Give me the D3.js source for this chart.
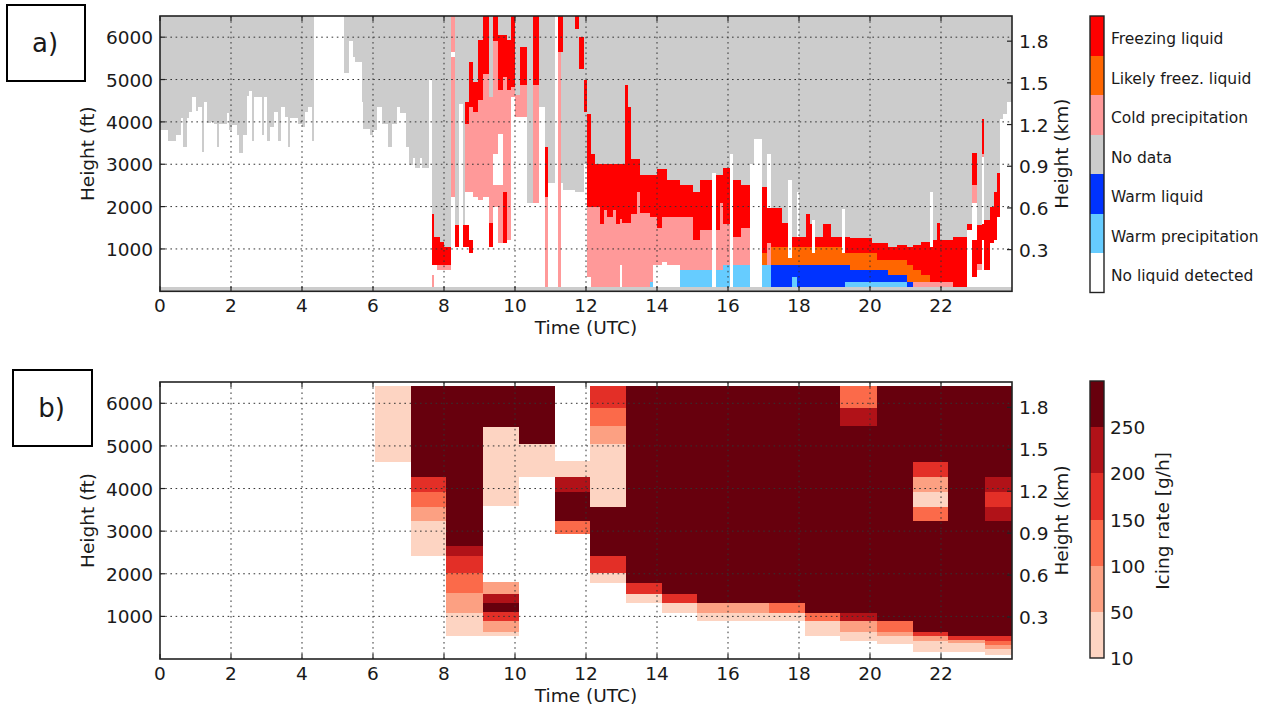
<!DOCTYPE html>
<html><head><meta charset="utf-8">
<script src="https://cdn.jsdelivr.net/npm/d3@7"></script>
<style>
body{margin:0;background:#fff;}
text{font-family:"DejaVu Sans",sans-serif;fill:#1a1a1a;}
</style>
</head><body>
<svg id="c" width="1268" height="711"></svg>
<script>
// ---------------- data ----------------
const hourTicks = [0,2,4,6,8,10,12,14,16,18,20,22];
const ftTicks = [1000,2000,3000,4000,5000,6000];
const kmTicks = [0.3,0.6,0.9,1.2,1.5,1.8];
const heightMaxFt = 6500;
const surfaceStripFt = 90;

// classification classes, legend order top -> bottom
const classCodes = ["R","O","P","G","B","L","W"];
const classNames = ["Freezing liquid","Likely freez. liquid","Cold precipitation","No data","Warm liquid","Warm precipitation","No liquid detected"];
const classColors = ["#ff0000","#ff6600","#ff9999","#cccccc","#0033ff","#66ccff","#ffffff"];

// each profile: [start hour, [[class, top of layer in ft], ...] from the surface strip up]; above last layer: no data
const profiles = [
[0.00,[["W",3820]]],[0.23,[["W",3550]]],[0.45,[["W",3690]]],[0.59,[["W",4080]]],[0.66,[["W",3410]]],
[0.75,[["W",4100]]],[0.83,[["W",4230]]],[0.91,[["W",4590]]],[1.00,[["W",4250]]],[1.08,[["W",4350]]],
[1.17,[["W",3300]]],[1.24,[["W",4470]]],[1.33,[["W",3970]]],[1.44,[["W",4000]]],[1.53,[["W",3960]]],
[1.60,[["W",3410]]],[1.66,[["W",3960]]],[1.88,[["W",4210]]],[1.94,[["W",3800]]],[2.02,[["W",3920]]],
[2.18,[["W",3690]]],[2.23,[["W",3270]]],[2.33,[["W",3690]]],[2.44,[["W",4600]]],[2.52,[["W",4720]]],
[2.58,[["W",3550]]],[2.66,[["W",4590]]],[2.86,[["W",3690]]],[2.94,[["W",4590]]],[3.00,[["W",3550]]],
[3.10,[["W",3880]]],[3.21,[["W",4240]]],[3.31,[["W",3550]]],[3.40,[["W",4350]]],[3.51,[["W",4120]]],
[3.61,[["W",3410]]],[3.67,[["W",4100]]],[3.90,[["W",3960]]],[3.99,[["W",3880]]],[4.08,[["W",4240]]],
[4.18,[["W",4350]]],[4.29,[["W",3550]]],[4.34,[["W",6500]]],[5.18,[["W",5150]]],[5.33,[["W",5910]]],
[5.43,[["W",5530]]],[5.49,[["W",5420]]],[5.68,[["W",4470]]],[5.73,[["W",3840]]],[5.92,[["W",3690]]],
[5.99,[["W",3800]]],[6.10,[["W",4350]]],[6.26,[["W",3960]]],[6.43,[["W",3410]]],[6.53,[["W",3960]]],
[6.69,[["W",4350]]],[6.76,[["W",4210]]],[6.93,[["W",3410]]],[7.02,[["W",2980]]],[7.12,[["W",3140]]],
[7.18,[["W",2900]]],[7.31,[["W",3140]]],[7.38,[["W",2900]]],[7.57,[["W",5000]]],
[7.66,[["P",384],["W",620],["R",1823]]],
[7.73,[["W",620],["R",1288]]],
[7.79,[["W",502],["P",620],["R",1288]]],
[7.89,[["W",502],["P",620],["R",1170]]],
[8.00,[["W",502],["P",620],["R",1037]]],
[8.19,[["W",2231],["P",5530],["W",5650],["P",6500]]],
[8.31,[["W",1037],["R",1563]]],
[8.43,[["W",4430]]],
[8.53,[["W",1037],["R",1563]]],
[8.59,[["W",1037],["R",1563],["W",2349],["P",3960],["R",4472]]],
[8.71,[["W",900],["R",1210],["W",2349],["P",4354],["R",5415]]],
[8.83,[["W",2231],["P",4236],["R",4943]]],
[8.97,[["W",2150],["P",4511],["R",5926]]],
[9.11,[["W",2231],["P",5140],["R",6500]]],
[9.28,[["W",1037],["R",1603],["P",4589]]],
[9.39,[["W",2000],["P",2500],["W",3250],["P",5900],["R",6500]]],
[9.53,[["W",1131],["P",2507],["W",3720],["P",4747],["R",6044]]],
[9.67,[["W",1131],["R",2349],["P",5061],["R",6044]]],
[9.77,[["W",1210],["P",4747],["R",5926]]],
[9.88,[["W",4589],["P",4825],["R",6500]]],
[10.00,[["W",4118],["P",4629]]],
[10.14,[["W",4118],["P",4865],["R",5768]]],
[10.35,[["W",2074]]],
[10.52,[["W",2074],["P",4865],["R",6500]]],
[10.69,[["W",4354]]],
[10.85,[["P",2231],["R",3410]]],
[10.94,[["W",2546]]],
[11.13,[["W",6500]]],
[11.22,[["P",5650],["R",6500]]],
[11.29,[["W",2546],["G",5650],["R",6500]]],
[11.36,[["W",2400]]],
[11.69,[["W",2349],["G",6201],["R",6500]]],
[11.81,[["W",2349],["G",5258],["R",6004]]],
[11.94,[["W",3000],["G",4236],["R",4982]]],
[12.02,[["W",345],["P",1996],["R",4197]]],
[12.13,[["P",1996],["R",3253]]],
[12.25,[["P",1996],["R",3017]]],
[12.40,[["P",1600],["R",3017]]],
[12.50,[["P",1917],["R",3017]]],
[12.60,[["P",1760],["R",3017]]],
[12.75,[["P",1917],["R",3017]]],
[12.85,[["P",1600],["R",3017]]],
[12.95,[["W",620],["P",1700],["R",3017]]],
[13.02,[["P",1603],["R",3017]]],
[13.10,[["P",1603],["R",4865]]],
[13.19,[["P",1603],["R",4354]]],
[13.26,[["P",1830],["R",3135]]],
[13.43,[["P",2350],["R",3135]]],
[13.52,[["P",1838],["R",2742]]],
[13.80,[["L",227],["P",1760],["R",2742]]],
[13.89,[["W",620],["P",1760],["R",2742]]],
[13.99,[["W",620],["P",1500],["R",2876]]],
[14.13,[["W",700],["P",1760],["R",2876]]],
[14.27,[["W",620],["P",1760],["R",2625]]],
[14.65,[["L",502],["P",1760],["R",2507]]],
[15.02,[["L",502],["P",1210],["R",2350]]],
[15.21,[["L",502],["P",1445],["R",2625]]],
[15.54,[["W",2782]]],
[15.66,[["L",502],["P",1445],["R",2742]]],
[15.77,[["L",502],["P",2074],["R",2742]]],
[15.87,[["L",620],["P",1600],["R",2900]]],
[16.06,[["W",3253]]],
[16.15,[["L",620],["P",1288],["R",2625]]],
[16.38,[["L",620],["P",1500],["R",2507]]],
[16.62,[["W",3017]]],
[16.73,[["W",3600]]],
[16.95,[["L",620],["O",900],["R",2467]]],
[17.09,[["L",620],["P",1131],["R",1956],["W",3253]]],
[17.20,[["B",620],["O",1037],["R",1956]]],
[17.51,[["B",620],["O",1037],["R",1603]]],
[17.70,[["B",620],["O",775],["W",2625]]],
[17.79,[["L",345],["B",620],["O",1037],["R",1288]]],
[17.93,[["B",620],["O",1037],["R",1288],["W",2349]]],
[18.01,[["B",620],["O",1037],["R",1288]]],
[18.20,[["B",620],["O",1037],["R",1823]]],
[18.31,[["B",620],["O",1037],["R",1600]]],
[18.38,[["B",620],["O",900],["W",1680]]],
[18.45,[["B",620],["O",1037],["R",1288]]],
[18.69,[["B",620],["O",1037],["R",1600]]],
[18.89,[["B",620],["O",1037],["R",1288]]],
[19.20,[["B",620],["O",900],["W",1950]]],
[19.30,[["L",227],["B",620],["O",900],["R",1288]]],
[19.44,[["L",227],["B",502],["O",900],["R",1250]]],
[20.05,[["L",227],["B",502],["O",900],["R",1131]]],
[20.19,[["L",227],["B",502],["O",737],["R",1131]]],
[20.52,[["L",227],["B",384],["O",737],["R",1037]]],
[20.75,[["L",227],["B",384],["O",737],["R",1100]]],
[21.03,[["B",227],["O",620],["R",1037]]],
[21.22,[["P",227],["O",502],["R",1100]]],
[21.45,[["P",227],["O",384],["R",1170]]],
[21.69,[["P",227],["R",1037],["W",2349]]],
[21.78,[["P",227],["R",1210]]],
[21.90,[["P",227],["R",1603]]],
[21.97,[["P",227],["R",1210]]],
[22.35,[["R",1288]]],
[22.73,[["W",1445],["R",1600]]],
[22.86,[["W",345],["R",1210],["W",2090],["P",2507],["R",3269]]],
[23.00,[["W",502],["P",650],["R",1563]]],
[23.15,[["W",1210],["R",1600],["W",3170],["P",3253],["R",4078]]],
[23.21,[["W",502],["R",1680]]],
[23.38,[["W",1131],["R",1996]]],
[23.48,[["W",1210],["R",2350]]],
[23.59,[["W",1760],["R",2782]]],
[23.66,[["W",4078]]],
[23.75,[["W",4197]]],
[23.85,[["W",4472]]]
];

// icing rate (panel b): time bins and cells [rate g/h, bottom ft, top ft]
const icingBinStart = [6.06,7.07,8.07,9.09,10.12,11.13,12.11,13.13,14.13,15.14,16.15,17.16,18.17,19.16,20.19,21.20,22.19,23.24];
const icingCells = [
 [[30,4622,6409]],
 [[30,2417,3244],[75,3244,3559],[125,3559,3929],[175,3929,4267],[300,4267,6409]],
 [[30,551,1078],[75,1078,1551],[125,1551,2008],[175,2008,2418],[225,2418,2653],[300,2653,6409]],
 [[30,551,645],[75,645,881],[175,881,1094],[300,1094,1315],[225,1315,1535],[75,1535,1803],[30,3582,5449],[300,5449,6409]],
 [[30,4267,5055],[300,5055,6409]],
 [[125,2929,3244],[300,3244,3929],[225,3929,4267],[30,4267,4638]],
 [[30,1787,2008],[175,2008,2417],[300,2417,3575],[30,3575,5055],[75,5055,5472],[125,5472,5882],[175,5882,6409]],
 [[30,1315,1535],[175,1535,1787],[300,1787,6409]],
 [[30,1078,1315],[175,1315,1535],[300,1535,6409]],
 [[30,881,1078],[75,1078,1315],[300,1315,6409]],
 [[30,881,1078],[75,1078,1315],[300,1315,6409]],
 [[30,881,1078],[125,1078,1315],[300,1315,6409]],
 [[30,543,881],[125,881,1078],[300,1078,6409]],
 [[30,425,645],[75,645,881],[225,881,1078],[300,1078,5472],[225,5472,5882],[125,5882,6409]],
 [[30,346,543],[75,543,645],[125,645,881],[300,881,6409]],
 [[30,165,425],[75,425,543],[175,543,645],[300,645,3244],[125,3244,3575],[30,3575,3929],[75,3929,4267],[175,4267,4622],[300,4622,6409]],
 [[30,165,370],[75,370,449],[175,449,543],[300,543,6409]],
 [[30,86,228],[75,228,330],[125,330,425],[175,425,543],[300,543,3244],[225,3244,3575],[175,3575,3929],[225,3929,4267],[300,4267,6409]]
];
const icingTicks = [10,50,100,150,200,250];
const icingColors = ["#fdd4c2","#fca082","#fb6a4a","#e32f27","#b11218","#67000d"];

// ---------------- drawing ----------------
const svg = d3.select("#c");
const FS = 18.5;

function makeScales(top, bottom){
  const x = d3.scaleLinear().domain([0,24]).range([160,1012]);
  const y = d3.scaleLinear().domain([0,heightMaxFt]).range([bottom,top]);
  const km = d3.scaleLinear().domain([0,heightMaxFt*0.0003048]).range([bottom,top]);
  return {x,y,km,top,bottom};
}

function axesOverlay(g, s){
  const {x,y,km,top,bottom} = s;
  const gg = g.append("g");
  // dotted grid
  gg.selectAll(".gx").data(hourTicks.filter(d=>d>0)).join("line")
    .attr("x1",d=>x(d)).attr("x2",d=>x(d)).attr("y1",top).attr("y2",bottom)
    .attr("stroke","#333").attr("stroke-width",1).attr("stroke-dasharray","1.6,3.6");
  gg.selectAll(".gy").data(ftTicks).join("line")
    .attr("x1",x(0)).attr("x2",x(24)).attr("y1",d=>y(d)).attr("y2",d=>y(d))
    .attr("stroke","#333").attr("stroke-width",1).attr("stroke-dasharray","1.6,3.6");
  // ticks (inward)
  gg.selectAll(".tb").data(hourTicks).join("line")
    .attr("x1",d=>x(d)).attr("x2",d=>x(d)).attr("y1",bottom).attr("y2",bottom-5)
    .attr("stroke","#222").attr("stroke-width",1.2);
  gg.selectAll(".tt").data(hourTicks).join("line")
    .attr("x1",d=>x(d)).attr("x2",d=>x(d)).attr("y1",top).attr("y2",top+5)
    .attr("stroke","#222").attr("stroke-width",1.2);
  gg.selectAll(".tl").data(ftTicks).join("line")
    .attr("x1",x(0)).attr("x2",x(0)+5).attr("y1",d=>y(d)).attr("y2",d=>y(d))
    .attr("stroke","#222").attr("stroke-width",1.2);
  gg.selectAll(".tr").data(kmTicks).join("line")
    .attr("x1",x(24)-5).attr("x2",x(24)).attr("y1",d=>km(d)).attr("y2",d=>km(d))
    .attr("stroke","#222").attr("stroke-width",1.2);
  // frame
  gg.append("rect").attr("x",x(0)).attr("y",top).attr("width",x(24)-x(0)).attr("height",bottom-top)
    .attr("fill","none").attr("stroke","#222").attr("stroke-width",1.6);
  // tick labels
  gg.selectAll(".lx").data(hourTicks).join("text")
    .attr("x",d=>x(d)).attr("y",bottom+21).attr("text-anchor","middle")
    .style("font-size",FS+"px").text(d=>d);
  gg.selectAll(".ly").data(ftTicks).join("text")
    .attr("x",x(0)-7).attr("y",d=>y(d)+7).attr("text-anchor","end")
    .style("font-size",FS+"px").text(d=>d);
  gg.selectAll(".lk").data(kmTicks).join("text")
    .attr("x",x(24)+7).attr("y",d=>km(d)+7).attr("text-anchor","start")
    .style("font-size",FS+"px").text(d=>d.toFixed(1));
  // axis titles
  const cy = (top+bottom)/2;
  gg.append("text").attr("transform",`translate(94,${cy}) rotate(-90)`).attr("text-anchor","middle")
    .style("font-size",FS+"px").text("Height (ft)");
  gg.append("text").attr("transform",`translate(1068,${cy}) rotate(-90)`).attr("text-anchor","middle")
    .style("font-size",FS+"px").text("Height (km)");
  gg.append("text").attr("x",(x(0)+x(24))/2).attr("y",bottom+43).attr("text-anchor","middle")
    .style("font-size",FS+"px").text("Time (UTC)");
}

function labelBox(x0,y0,w,h,label){
  svg.append("rect").attr("x",x0).attr("y",y0).attr("width",w).attr("height",h)
    .attr("fill","#fff").attr("stroke","#000").attr("stroke-width",2);
  svg.append("text").attr("x",x0+w/2-1).attr("y",y0+h/2+9).attr("text-anchor","middle")
    .style("font-size","26px").text(label);
}

// ---- panel a ----
const sA = makeScales(16, 291.3);
const colorOf = {}; classCodes.forEach((c,i)=>colorOf[c]=classColors[i]);
const gA = svg.append("g");
gA.append("rect").attr("x",sA.x(0)).attr("y",sA.y(heightMaxFt)).attr("width",sA.x(24)-sA.x(0))
  .attr("height",sA.y(0)-sA.y(heightMaxFt)).attr("fill",colorOf.G);
const rectsA = [];
profiles.forEach((p,i)=>{
  const t0 = p[0], t1 = i<profiles.length-1 ? profiles[i+1][0] : 24;
  let base = surfaceStripFt;
  p[1].forEach(([c,top])=>{
    if(c!=="G") rectsA.push({t0,t1,c,b:base,top:Math.min(top,heightMaxFt)});
    base = top;
  });
});
gA.selectAll(".ca").data(rectsA).join("rect")
  .attr("x",d=>sA.x(d.t0)).attr("width",d=>sA.x(d.t1)-sA.x(d.t0))
  .attr("y",d=>sA.y(d.top)).attr("height",d=>sA.y(d.b)-sA.y(d.top))
  .attr("fill",d=>colorOf[d.c]).attr("shape-rendering","crispEdges");
axesOverlay(gA, sA);

// legend colorbar a
const cbA = d3.scaleBand().domain(classCodes).range([16,292.5]);
svg.selectAll(".cba").data(classCodes).join("rect")
  .attr("x",1090).attr("width",14).attr("y",d=>cbA(d)).attr("height",cbA.bandwidth())
  .attr("fill",d=>colorOf[d]).attr("shape-rendering","crispEdges");
svg.append("rect").attr("x",1090).attr("y",16).attr("width",14).attr("height",276.5)
  .attr("fill","none").attr("stroke","#222").attr("stroke-width",1.4);
svg.selectAll(".cbal").data(classCodes).join("text")
  .attr("x",1111).attr("y",d=>cbA(d)+cbA.bandwidth()/2+8.5)
  .style("font-size","15.5px").text((d,i)=>classNames[i]);

// ---- panel b ----
const sB = makeScales(382, 659);
const iceColor = d3.scaleThreshold().domain(icingTicks.slice(1)).range(icingColors);
const gB = svg.append("g");
const rectsB = [];
icingBinStart.forEach((t0,i)=>{
  const t1 = i<icingBinStart.length-1 ? icingBinStart[i+1] : 24;
  icingCells[i].forEach(([v,b,top])=>rectsB.push({t0,t1,v,b,top}));
});
gB.selectAll(".cb").data(rectsB).join("rect")
  .attr("x",d=>sB.x(d.t0)).attr("width",d=>sB.x(d.t1)-sB.x(d.t0))
  .attr("y",d=>sB.y(d.top)).attr("height",d=>sB.y(d.b)-sB.y(d.top))
  .attr("fill",d=>iceColor(d.v)).attr("shape-rendering","crispEdges");
axesOverlay(gB, sB);

// colorbar b
const cbB = d3.scaleLinear().domain([0,icingColors.length]).range([658,381]);
svg.selectAll(".cbb").data(icingColors).join("rect")
  .attr("x",1090).attr("width",14).attr("y",(d,i)=>cbB(i+1)).attr("height",(d,i)=>cbB(i)-cbB(i+1))
  .attr("fill",d=>d).attr("shape-rendering","crispEdges");
svg.append("rect").attr("x",1090).attr("y",381).attr("width",14).attr("height",277)
  .attr("fill","none").attr("stroke","#222").attr("stroke-width",1.4);
svg.selectAll(".cbbl").data(icingTicks).join("text")
  .attr("x",1110).attr("y",(d,i)=>cbB(i)+7).style("font-size",FS+"px").text(d=>d);
svg.append("text").attr("transform","translate(1169,521) rotate(-90)").attr("text-anchor","middle")
  .style("font-size",FS+"px").text("Icing rate [g/h]");

labelBox(7,5,78,76,"a)");
labelBox(13,370,79,76,"b)");
</script>
</body></html>
